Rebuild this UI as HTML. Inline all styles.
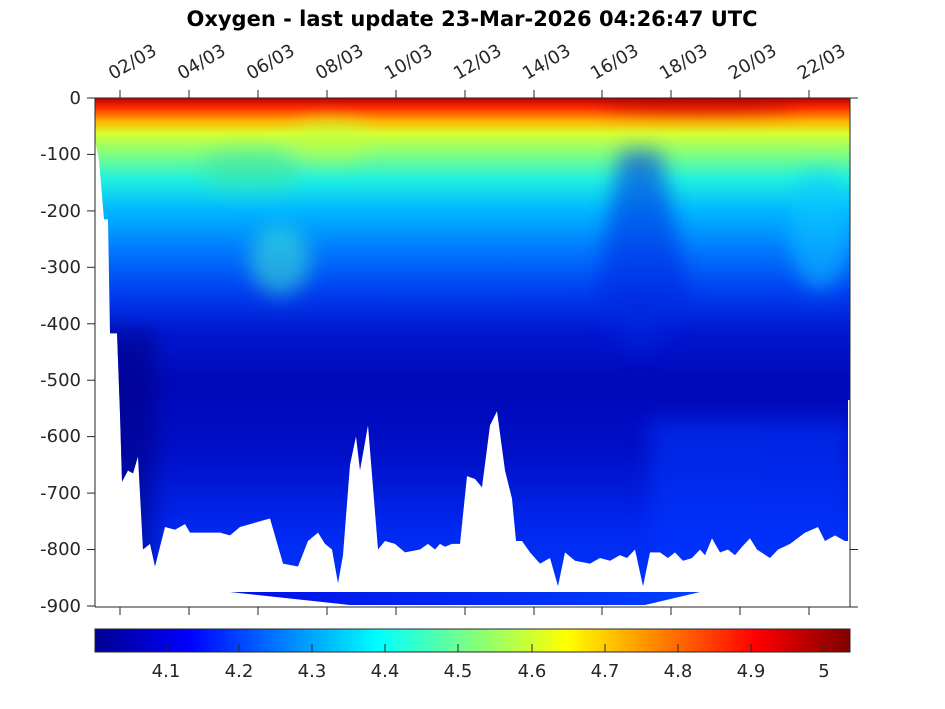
<!DOCTYPE html>
<html><head><meta charset="utf-8"><style>
body{margin:0;background:#fff;}
svg{display:block;font-family:"DejaVu Sans","Liberation Sans",sans-serif;}
</style></head><body>
<svg width="945" height="709" viewBox="0 0 945 709">
<defs>
<linearGradient id="dep" gradientUnits="userSpaceOnUse" x1="0" y1="98" x2="0" y2="606">
<stop offset="0" stop-color="#c00000"/>
<stop offset="0.02" stop-color="#ff3000"/>
<stop offset="0.045" stop-color="#ffb000"/>
<stop offset="0.07" stop-color="#d8ff30"/>
<stop offset="0.11" stop-color="#80ff80"/>
<stop offset="0.16" stop-color="#20f0e0"/>
<stop offset="0.22" stop-color="#00b8ff"/>
<stop offset="0.3" stop-color="#0078ff"/>
<stop offset="0.38" stop-color="#0040f0"/>
<stop offset="0.46" stop-color="#0018d0"/>
<stop offset="0.56" stop-color="#0008b8"/>
<stop offset="0.7" stop-color="#0010c8"/>
<stop offset="0.85" stop-color="#0028f0"/>
<stop offset="1" stop-color="#0038ff"/>
</linearGradient>
<linearGradient id="jet" x1="0" y1="0" x2="1" y2="0">
<stop offset="0" stop-color="#000090"/>
<stop offset="0.125" stop-color="#0000ff"/>
<stop offset="0.375" stop-color="#00ffff"/>
<stop offset="0.625" stop-color="#ffff00"/>
<stop offset="0.875" stop-color="#ff0000"/>
<stop offset="1" stop-color="#800000"/>
</linearGradient>
<linearGradient id="strip" x1="0" y1="0" x2="1" y2="0">
<stop offset="0" stop-color="#0010e8"/><stop offset="1" stop-color="#0040ff"/>
</linearGradient>
<clipPath id="dc"><polygon transform="translate(0,98) scale(1,-0.5644)" points="95,0 95,-75 99,-110 104,-215 108,-215 110,-417 117,-417 120,-560 122,-680 128,-660 133,-665 138,-635 143,-800 150,-790 155,-830 165,-760 175,-765 185,-755 190,-770 220,-770 230,-775 240,-760 260,-750 270,-745 283,-825 298,-830 308,-785 318,-770 325,-790 332,-800 338,-860 343,-810 350,-650 356,-600 360,-660 368,-580 378,-800 385,-785 395,-790 405,-805 420,-800 428,-790 435,-800 440,-790 445,-795 452,-790 460,-790 467,-670 475,-675 482,-690 490,-580 497,-555 505,-660 512,-710 516,-785 522,-785 530,-805 540,-825 550,-815 558,-865 565,-805 575,-820 590,-825 600,-815 610,-820 620,-810 627,-815 635,-800 643,-865 650,-805 660,-805 668,-815 675,-805 683,-820 692,-815 700,-800 705,-810 712,-780 720,-805 728,-800 735,-810 742,-795 750,-780 757,-800 770,-815 778,-800 790,-790 805,-770 818,-760 825,-785 835,-775 845,-785 848,-785 848,-535 850,-535 850,0"/></clipPath>
<filter id="bl"><feGaussianBlur stdDeviation="10"/></filter>
</defs>
<text x="472" y="26" text-anchor="middle" font-size="21" font-weight="bold" fill="#000">Oxygen - last update 23-Mar-2026 04:26:47 UTC</text>
<g clip-path="url(#dc)">
<rect x="95" y="98" width="755" height="510" fill="url(#dep)"/>
<g filter="url(#bl)" opacity="0.55">
<polygon points="620,150 660,150 690,300 640,360 595,300" fill="#0028e0"/>
<rect x="95" y="330" width="60" height="300" fill="#000080"/>
<ellipse cx="280" cy="260" rx="30" ry="35" fill="#40e8d0"/>
<ellipse cx="820" cy="230" rx="30" ry="60" fill="#10c8ff"/>
<ellipse cx="330" cy="140" rx="40" ry="20" fill="#c0ff40"/>
<ellipse cx="250" cy="170" rx="50" ry="20" fill="#40e0a0"/>
<ellipse cx="700" cy="104" rx="100" ry="7" fill="#900000"/>
<rect x="650" y="420" width="200" height="200" fill="#0038ff"/>
</g>
</g>
<polygon points="230,592 700,592 645,605 350,605" fill="url(#strip)"/>
<g stroke="#262626" stroke-width="1" fill="none">
<line x1="95" y1="98" x2="95" y2="607"/>
<line x1="850" y1="98" x2="850" y2="607"/>
<line x1="95" y1="98" x2="858" y2="98"/>
<line x1="95" y1="607" x2="858" y2="607"/>
</g>
<g stroke="#262626" stroke-width="1">
<line x1="87" y1="98" x2="95" y2="98"/><line x1="87" y1="154.4" x2="95" y2="154.4"/><line x1="87" y1="210.9" x2="95" y2="210.9"/><line x1="87" y1="267.3" x2="95" y2="267.3"/><line x1="87" y1="323.8" x2="95" y2="323.8"/><line x1="87" y1="380.2" x2="95" y2="380.2"/><line x1="87" y1="436.6" x2="95" y2="436.6"/><line x1="87" y1="493.1" x2="95" y2="493.1"/><line x1="87" y1="549.5" x2="95" y2="549.5"/><line x1="87" y1="606" x2="95" y2="606"/>
<line x1="850" y1="549.5" x2="858" y2="549.5"/>
</g>
<g stroke="#262626" stroke-width="1">
<line x1="120" y1="90" x2="120" y2="98"/><line x1="189" y1="90" x2="189" y2="98"/><line x1="258" y1="90" x2="258" y2="98"/><line x1="327" y1="90" x2="327" y2="98"/><line x1="396" y1="90" x2="396" y2="98"/><line x1="465" y1="90" x2="465" y2="98"/><line x1="534" y1="90" x2="534" y2="98"/><line x1="602" y1="90" x2="602" y2="98"/><line x1="671" y1="90" x2="671" y2="98"/><line x1="740" y1="90" x2="740" y2="98"/><line x1="809" y1="90" x2="809" y2="98"/>
<line x1="120" y1="607" x2="120" y2="615"/><line x1="189" y1="607" x2="189" y2="615"/><line x1="258" y1="607" x2="258" y2="615"/><line x1="327" y1="607" x2="327" y2="615"/><line x1="396" y1="607" x2="396" y2="615"/><line x1="465" y1="607" x2="465" y2="615"/><line x1="534" y1="607" x2="534" y2="615"/><line x1="602" y1="607" x2="602" y2="615"/><line x1="671" y1="607" x2="671" y2="615"/><line x1="740" y1="607" x2="740" y2="615"/><line x1="809" y1="607" x2="809" y2="615"/>
</g>
<g font-size="18" fill="#262626" text-anchor="end">
<text x="81" y="104">0</text><text x="81" y="160">-100</text><text x="81" y="217">-200</text><text x="81" y="273">-300</text><text x="81" y="330">-400</text><text x="81" y="386">-500</text><text x="81" y="442">-600</text><text x="81" y="499">-700</text><text x="81" y="555">-800</text><text x="81" y="612">-900</text>
</g>
<g font-size="18" fill="#262626">
<text transform="translate(113,80) rotate(-30)">02/03</text>
<text transform="translate(182,80) rotate(-30)">04/03</text>
<text transform="translate(251,80) rotate(-30)">06/03</text>
<text transform="translate(320,80) rotate(-30)">08/03</text>
<text transform="translate(389,80) rotate(-30)">10/03</text>
<text transform="translate(458,80) rotate(-30)">12/03</text>
<text transform="translate(527,80) rotate(-30)">14/03</text>
<text transform="translate(595,80) rotate(-30)">16/03</text>
<text transform="translate(664,80) rotate(-30)">18/03</text>
<text transform="translate(733,80) rotate(-30)">20/03</text>
<text transform="translate(802,80) rotate(-30)">22/03</text>
</g>
<rect x="95" y="629" width="755" height="23" fill="url(#jet)" stroke="#262626" stroke-width="1"/>
<g stroke="#262626" stroke-width="1">
<line x1="166" y1="644" x2="166" y2="652"/><line x1="239" y1="644" x2="239" y2="652"/><line x1="312" y1="644" x2="312" y2="652"/><line x1="385" y1="644" x2="385" y2="652"/><line x1="458" y1="644" x2="458" y2="652"/><line x1="532" y1="644" x2="532" y2="652"/><line x1="605" y1="644" x2="605" y2="652"/><line x1="678" y1="644" x2="678" y2="652"/><line x1="751" y1="644" x2="751" y2="652"/><line x1="824" y1="644" x2="824" y2="652"/>
</g>
<g font-size="18" fill="#262626" text-anchor="middle">
<text x="166" y="677">4.1</text><text x="239" y="677">4.2</text><text x="312" y="677">4.3</text><text x="385" y="677">4.4</text><text x="458" y="677">4.5</text><text x="532" y="677">4.6</text><text x="605" y="677">4.7</text><text x="678" y="677">4.8</text><text x="751" y="677">4.9</text><text x="824" y="677">5</text>
</g>
</svg>
</body></html>
